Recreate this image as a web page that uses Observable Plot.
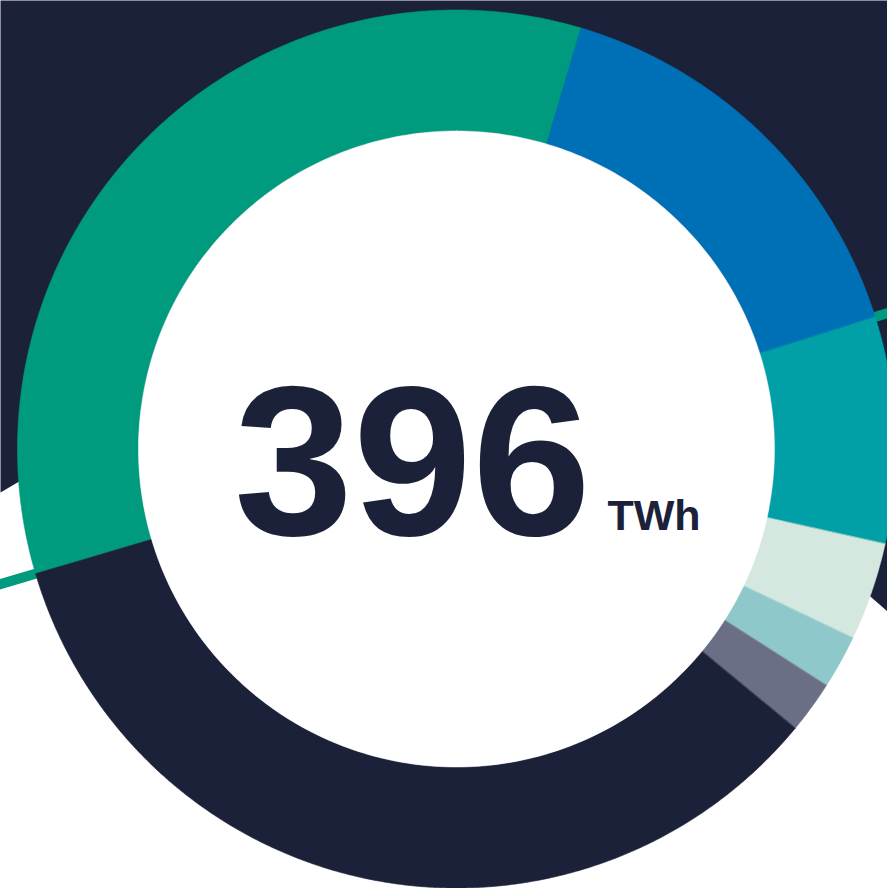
<!DOCTYPE html>
<html><head><meta charset="utf-8">
<script src="https://cdn.jsdelivr.net/npm/d3@7"></script>
<script src="https://cdn.jsdelivr.net/npm/@observablehq/plot@0.6"></script>
<style>
body{margin:0;background:#fff;}
#chart svg{display:block;}
</style>
</head><body><div id="chart"></div>
<script>
// ---- data ----
const categories = ["Source 1", "Source 2", "Source 3", "Source 4", "Source 5", "Source 6", "Source 7"];
const values = [135.3, 61.6, 33.0, 14.3, 7.8, 7.6, 136.4];          // TWh
const colors = ["#009B7E", "#0070B6", "#00A0A6", "#D4E8E0", "#8EC8CA", "#6B6F85", "#1B2139"];
const totalLabel = ["396"];
const unitLabel = ["TWh"];
const startAngleDeg = 253.5;      // first slice starts here, clockwise from 12 o'clock
const leaderBoundaries = [0, 2];  // slice indices whose start boundary gets an outside line

// ---- layout ----
const W = 887, H = 888;
const cx = 456, cy = 448.5, Rpx = 439;
const inner = 318 / Rpx;
const navy = "#1B2139";
const toRad = d => d * Math.PI / 180;

const total = d3.sum(values);
let acc = 0;
const slices = categories.map((c, i) => {
  const a0 = startAngleDeg + acc / total * 360;
  acc += values[i];
  const a1 = startAngleDeg + acc / total * 360;
  return {category: c, value: values[i], a0, a1};
});

function ringPoints(s) {
  const n = Math.max(4, Math.ceil((s.a1 - s.a0) * 3));
  const pts = [];
  for (let k = 0; k <= n; k++) {
    const a = toRad(s.a0 + (s.a1 - s.a0) * k / n);
    pts.push({category: s.category, x: Math.sin(a), y: Math.cos(a)});
  }
  for (let k = n; k >= 0; k--) {
    const a = toRad(s.a0 + (s.a1 - s.a0) * k / n);
    pts.push({category: s.category, x: inner * Math.sin(a), y: inner * Math.cos(a)});
  }
  return pts;
}
const slicePts = slices.flatMap(ringPoints);

const hole = d3.range(0, 361, 1).map(d => ({x: inner * Math.sin(toRad(d)), y: inner * Math.cos(toRad(d))}));

// background panel (frame pixels converted to chart units)
const bgPx = [[0,0],[W,0],[W,611],[448,228],[0,492]];
const bg = bgPx.map(([px, py]) => ({x: (px - cx) / Rpx, y: (cy - py) / Rpx}));

const leaders = leaderBoundaries.flatMap((i, j) => {
  const a = toRad(slices[i].a0);
  return [0.95, 1.5].map(r => ({id: j, x: r * Math.sin(a), y: r * Math.cos(a)}));
});

const center = [{x: 0, y: 0}];

const chart = Plot.plot({
  width: W, height: H,
  margin: 0,
  x: {domain: [-cx / Rpx, (W - cx) / Rpx], range: [0, W], axis: null},
  y: {domain: [cy / Rpx, (cy - H) / Rpx], range: [0, H], axis: null},
  color: {domain: categories, range: colors},
  style: {fontFamily: "'Liberation Sans', Arial, sans-serif", background: "#fff"},
  marks: [
    Plot.line(bg, {x: "x", y: "y", fill: navy, stroke: "none", curve: "linear-closed"}),
    Plot.line(leaders, {x: "x", y: "y", z: "id", stroke: colors[0], strokeWidth: 10}),
    Plot.line(slicePts, {x: "x", y: "y", z: "category", fill: "category", stroke: "category", strokeWidth: 0.6, curve: "linear-closed"}),
    Plot.line(hole, {x: "x", y: "y", fill: "#fff", stroke: "#fff", strokeWidth: 0.5, curve: "linear-closed"}),
    Plot.text(center, {x: "x", y: "y", text: () => totalLabel[0], fontSize: 214, fontWeight: 700, fill: navy,
      textAnchor: "middle", lineAnchor: "bottom", dx: -44, dy: 86, letterSpacing: "6px"}),
    Plot.text(center, {x: "x", y: "y", text: () => unitLabel[0], fontSize: 43, fontWeight: 700, fill: navy,
      textAnchor: "start", lineAnchor: "bottom", dx: 151, dy: 81, letterSpacing: "2.5px"})
  ]
});
document.getElementById("chart").appendChild(chart);
</script>
</body></html>
